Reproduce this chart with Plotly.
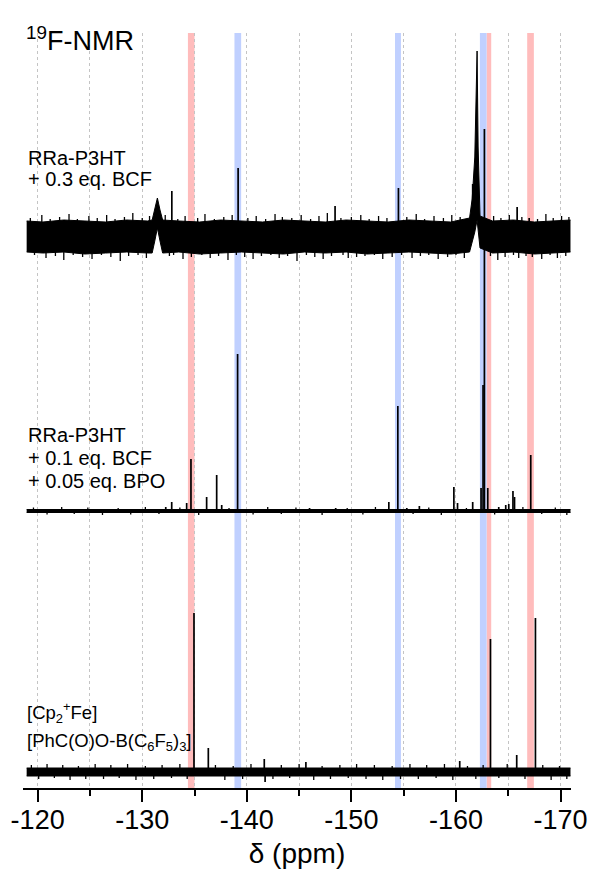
import plotly.graph_objects as go

# ---------------- data ----------------
# chemical shift axis
x_range = [-118.6, -171.0]
major_ticks = [-120, -130, -140, -150, -160, -170]

# highlighted shift regions (ppm)
red_bands = [(-134.37, -135.0), (-162.93, -163.37), (-166.81, -167.45)]
blue_bands = [(-138.82, -139.46), (-154.17, -154.74), (-162.29, -162.93)]

# spectrum 1: RRa-P3HT + 0.3 eq. BCF (noisy)
top_band_ppm = [-118.95, -120.5, -122.5, -124.5, -126.5, -128.5, -130.5, -130.95, -131.2,
                -131.45, -131.7, -131.95, -133.5, -135.5, -137.5, -139.5, -141.5, -143.5,
                -145.5, -147.5, -149.5, -151.5, -153.5, -155.5, -157.5, -159.5, -161.3,
                -161.55, -161.8, -162.02, -162.12, -162.3, -163.5, -165.5, -167.5, -169.5,
                -170.95]
top_band_hi = [16, 15, 17, 16, 15, 17, 16, 17, 27, 39, 27, 17, 16, 15, 17, 16, 15, 17,
               16, 15, 17, 16, 15, 17, 16, 15, 19, 38, 80, 186, 90, 21, 16, 17, 15, 16, 17]
top_band_lo = [-15, -16, -15, -17, -16, -15, -16, -16, -4, 9, -4, -16, -15, -17, -16, -15,
               -16, -17, -15, -16, -15, -17, -16, -15, -16, -17, -15, -6, 5, 17, 5, -11,
               -16, -15, -17, -16, -15]
top_spike_ppm = [-119.3, -119.7, -120.4, -120.8, -121.2, -121.7, -122.1, -122.5, -123.0, -123.4,
                 -123.8, -124.3, -124.9, -125.2, -125.7, -126.1, -126.6, -127.0, -127.4, -127.9,
                 -128.3, -128.7, -129.1, -129.6, -130.0, -130.4, -130.7, -132.2, -132.6, -133.0,
                 -133.4, -133.9, -134.1, -134.7, -135.3, -135.7, -136.0, -136.5, -136.9, -137.3,
                 -137.8, -138.2, -138.6, -139.0, -139.8, -140.1, -140.6, -140.9, -141.4, -141.8,
                 -142.3, -142.7, -143.1, -143.4, -143.9, -144.3, -144.8, -145.2, -145.7, -146.1,
                 -146.5, -146.9, -147.3, -147.7, -148.1, -149.0, -149.2, -149.7, -150.0, -150.5,
                 -150.9, -151.3, -151.7, -152.2, -152.6, -153.0, -153.4, -153.9, -154.8, -155.3,
                 -155.8, -156.2, -156.6, -157.0, -157.4, -157.9, -158.3, -158.8, -159.2, -159.6,
                 -160.0, -160.4, -160.8, -161.1, -163.3, -163.6, -164.0, -164.3, -164.7, -165.1,
                 -165.5, -166.0, -166.3, -166.7, -167.3, -167.8, -168.2, -168.6, -169.0, -169.3,
                 -169.7, -170.1, -170.5, -170.8]
top_spike_int = [19, -18, 22, -21, 18, -19, 20, -23, 23, -18, 18, -20, 21, -22, 19, -18, 22, -20,
                 18, -24, 20, -19, 24, -18, 19, -21, 21, 22, -19, -18, 18, -22, 21, -20, 19, -18,
                 23, -21, 18, -19, 20, -23, 22, -18, -20, 19, -22, 21, -19, 18, -18, 23, -21, 20,
                 -19, 19, -24, 22, -18, 18, -20, 21, -22, 24, -19, 19, -18, -21, 20, -20, 22, -19,
                 18, -18, 21, -22, 19, -20, -18, 20, -21, 23, -19, 18, -18, 21, -22, 19, -20, 22,
                 -18, 20, -21, 18, -19, 21, -23, 19, -20, 22, -18, -21, 20, -19, -20, 18, -22, 23,
                 -18, 19, -21, 21, -19, 20]
top_peak_ppm = [-132.83, -139.17, -148.44, -154.5, -161.6, -165.85, -167.0]
top_peak_int = [46, 69, 31, 49, 53, 30, 19]

# spectrum 2: RRa-P3HT + 0.1 eq. BCF + 0.05 eq. BPO
mid_band_ppm = [-118.95, -125.0, -131.0, -137.0, -143.0, -149.0, -155.0, -161.0, -167.0, -170.95]
mid_band_hi = [1.5, 1.5, 1.5, 1.5, 1.5, 1.5, 1.5, 1.5, 1.5, 1.5]
mid_band_lo = [-1.5, -1.5, -1.5, -1.5, -1.5, -1.5, -1.5, -1.5, -1.5, -1.5]
mid_spike_ppm = [-119.6, -120.9, -122.3, -123.5, -124.8, -126.2, -127.7, -128.9, -130.3, -131.6,
                 -133.6, -135.4, -138.3, -140.6, -142.0, -143.3, -144.7, -147.2, -149.6, -151.1,
                 -152.3, -155.9, -157.4, -158.6, -161.0, -163.7, -166.4, -168.2, -169.5, -170.6]
mid_spike_int = [3.5, -3.5, 4, -3, 3.5, -4, 3, -3.5, 4, -3, 3.5, -4, 3, -3.5, 4, -3, 3.5, -4,
                 3, -3.5, 4, -3, 3.5, -4, 3, -3.5, 4, -3, 3.5, -4]
mid_peak_ppm = [-132.25, -132.82, -134.25, -134.66, -136.16, -137.12, -137.6, -139.12, -146.0,
                -148.5, -153.58, -154.44, -155.3, -156.5, -159.8, -160.15, -161.6, -162.4,
                -162.59, -162.72, -163.04, -164.09, -164.76, -165.05, -165.45, -165.6, -167.15]
mid_peak_int = [4, 9, 8, 52, 14, 36, 6, 157, 3,
                3, 9, 105, 3, 5, 24, 8, 9, 23,
                126, 382, 23, 4, 6, 7, 20, 14, 56]

# spectrum 3: [Cp2+Fe][PhC(O)O-B(C6F5)3]
bot_band_ppm = [-118.95, -124.0, -129.0, -134.0, -139.0, -144.0, -149.0, -154.0, -159.0,
                -164.0, -169.0, -170.95]
bot_band_hi = [4, 4, 4, 4, 4, 4, 4, 4, 4, 4, 4, 4]
bot_band_lo = [-4, -4, -4, -4, -4, -4, -4, -4, -4, -4, -4, -4]
bot_spike_ppm = [-119.4, -120.1, -120.9, -121.6, -122.4, -123.1, -123.9, -124.6, -125.5, -126.3,
                 -127.0, -127.8, -128.6, -129.4, -130.3, -131.1, -131.9, -132.8, -133.6, -134.3,
                 -137.0, -137.9, -138.7, -139.6, -140.4, -142.5, -143.3, -144.1, -145.0, -146.4,
                 -147.2, -148.0, -148.9, -149.7, -150.5, -151.4, -152.2, -153.0, -153.9, -154.7,
                 -155.6, -156.4, -157.2, -158.1, -158.9, -159.7, -161.1, -161.9, -162.6, -164.1,
                 -164.9, -166.6, -168.3, -169.1, -169.9, -170.6]
bot_spike_int = [7, -7, 8, -6, 7, -8, 6, -7, 8, -7, 7, -6, 8, -8, 6, -7, 7, -6, 8, -7,
                 7, -8, 6, -7, 8, -7, 7, -6, 8, -8, 6, -7, 7, -6, 8, -7, 7, -8, 6, -7,
                 8, -7, 7, -6, 8, -8, 6, -7, 7, -6, 8, -7, 7, -8, 6, -7]
bot_peak_ppm = [-134.95, -136.32, -141.67, -141.75, -145.65, -160.36, -163.3, -165.81, -167.6]
bot_peak_int = [159, 24, 13, -10, 10, 11, 133, 17, 154]

spectra = [
    (top_band_ppm, top_band_hi, top_band_lo, top_spike_ppm, top_spike_int, top_peak_ppm, top_peak_int),
    (mid_band_ppm, mid_band_hi, mid_band_lo, mid_spike_ppm, mid_spike_int, mid_peak_ppm, mid_peak_int),
    (bot_band_ppm, bot_band_hi, bot_band_lo, bot_spike_ppm, bot_spike_int, bot_peak_ppm, bot_peak_int),
]

label_lines = [
    ["RRa-P3HT", "+ 0.3 eq. BCF"],
    ["RRa-P3HT", "+ 0.1 eq. BCF", "+ 0.05 eq. BPO"],
    ["[Cp<sub>2</sub><sup>+</sup>Fe]", "[PhC(O)O-B(C<sub>6</sub>F<sub>5</sub>)<sub>3</sub>]"],
]

# ---------------- layout / style ----------------
W, H = 591, 869
ML, MR, MT, MB = 23, 20, 33, 81
PLOT_H = H - MT - MB
offsets = [551, 277, 16]          # vertical stacking of the spectra
FONT = "Liberation Sans, Arial, sans-serif"
label_pos = [(26, [158, 179], 20), (26, [435, 458, 481], 20), (25, [712, 742], 18.5)]


def px_x(px):
    return (px - ML) / (W - ML - MR)


def px_y(py):
    return (H - MB - py) / PLOT_H


def sticks(ppm, inten, off):
    xs, ys = [], []
    for p, h in zip(ppm, inten):
        xs += [p, p, None]
        ys += [off, off + h, None]
    return xs, ys


fig = go.Figure()

for (bx, bhi, blo, sp, si, pp, pint), off in zip(spectra, offsets):
    # noise envelope
    fig.add_trace(go.Scatter(x=bx, y=[v + off for v in blo], mode="lines",
                             line=dict(color="black", width=1), hoverinfo="skip"))
    fig.add_trace(go.Scatter(x=bx, y=[v + off for v in bhi], mode="lines", fill="tonexty",
                             fillcolor="black", line=dict(color="black", width=1),
                             hoverinfo="skip"))
    # noise spikes
    xs, ys = sticks(sp, si, off)
    fig.add_trace(go.Scatter(x=xs, y=ys, mode="lines", line=dict(color="black", width=1.3),
                             hoverinfo="skip"))
    # resonances
    xs, ys = sticks(pp, pint, off)
    fig.add_trace(go.Scatter(x=xs, y=ys, mode="lines", line=dict(color="black", width=1.7),
                             hoverinfo="skip"))

shapes = []
for (a, b) in red_bands:
    shapes.append(dict(type="rect", xref="x", yref="paper", x0=a, x1=b, y0=0, y1=1,
                       fillcolor="rgb(255,188,188)", line=dict(width=0), layer="below"))
for (a, b) in blue_bands:
    shapes.append(dict(type="rect", xref="x", yref="paper", x0=a, x1=b, y0=0, y1=1,
                       fillcolor="rgb(192,208,255)", line=dict(width=0), layer="below"))

annotations = [dict(text="<sup>19</sup>F-NMR", x=px_x(24), y=px_y(39), xref="paper", yref="paper",
                    xanchor="left", yanchor="middle", showarrow=False,
                    font=dict(size=27, color="black", family=FONT))]
for lines, (lx, ly, fs) in zip(label_lines, label_pos):
    for t, yy in zip(lines, ly):
        annotations.append(dict(text=t, x=px_x(lx), y=px_y(yy), xref="paper", yref="paper",
                                xanchor="left", yanchor="middle", showarrow=False,
                                font=dict(size=fs, color="black", family=FONT)))

fig.update_layout(
    width=W, height=H,
    margin=dict(l=ML, r=MR, t=MT, b=MB, pad=0, autoexpand=False),
    paper_bgcolor="white", plot_bgcolor="white",
    showlegend=False,
    shapes=shapes,
    annotations=annotations,
    font=dict(family=FONT, color="black"),
    xaxis=dict(
        range=x_range,
        automargin=False,
        tickvals=major_ticks,
        ticktext=[str(v) for v in major_ticks],
        ticks="outside", ticklen=12, tickwidth=2, tickcolor="black",
        ticklabelstandoff=-5,
        showline=True, linecolor="black", linewidth=2,
        showgrid=True, gridcolor="#c4c4c4", griddash="dot", gridwidth=1,
        zeroline=False,
        tickfont=dict(size=27, color="black", family=FONT),
        minor=dict(dtick=5, tick0=-120, ticks="outside", ticklen=6, tickwidth=2,
                   tickcolor="black", showgrid=True, gridcolor="#c4c4c4", griddash="dot",
                   gridwidth=1),
        title=dict(text="δ (ppm)", font=dict(size=28, color="black", family=FONT), standoff=16),
    ),
    yaxis=dict(range=[0, PLOT_H], visible=False, showgrid=False, zeroline=False,
               automargin=False),
)

fig.write_html("out.html")
